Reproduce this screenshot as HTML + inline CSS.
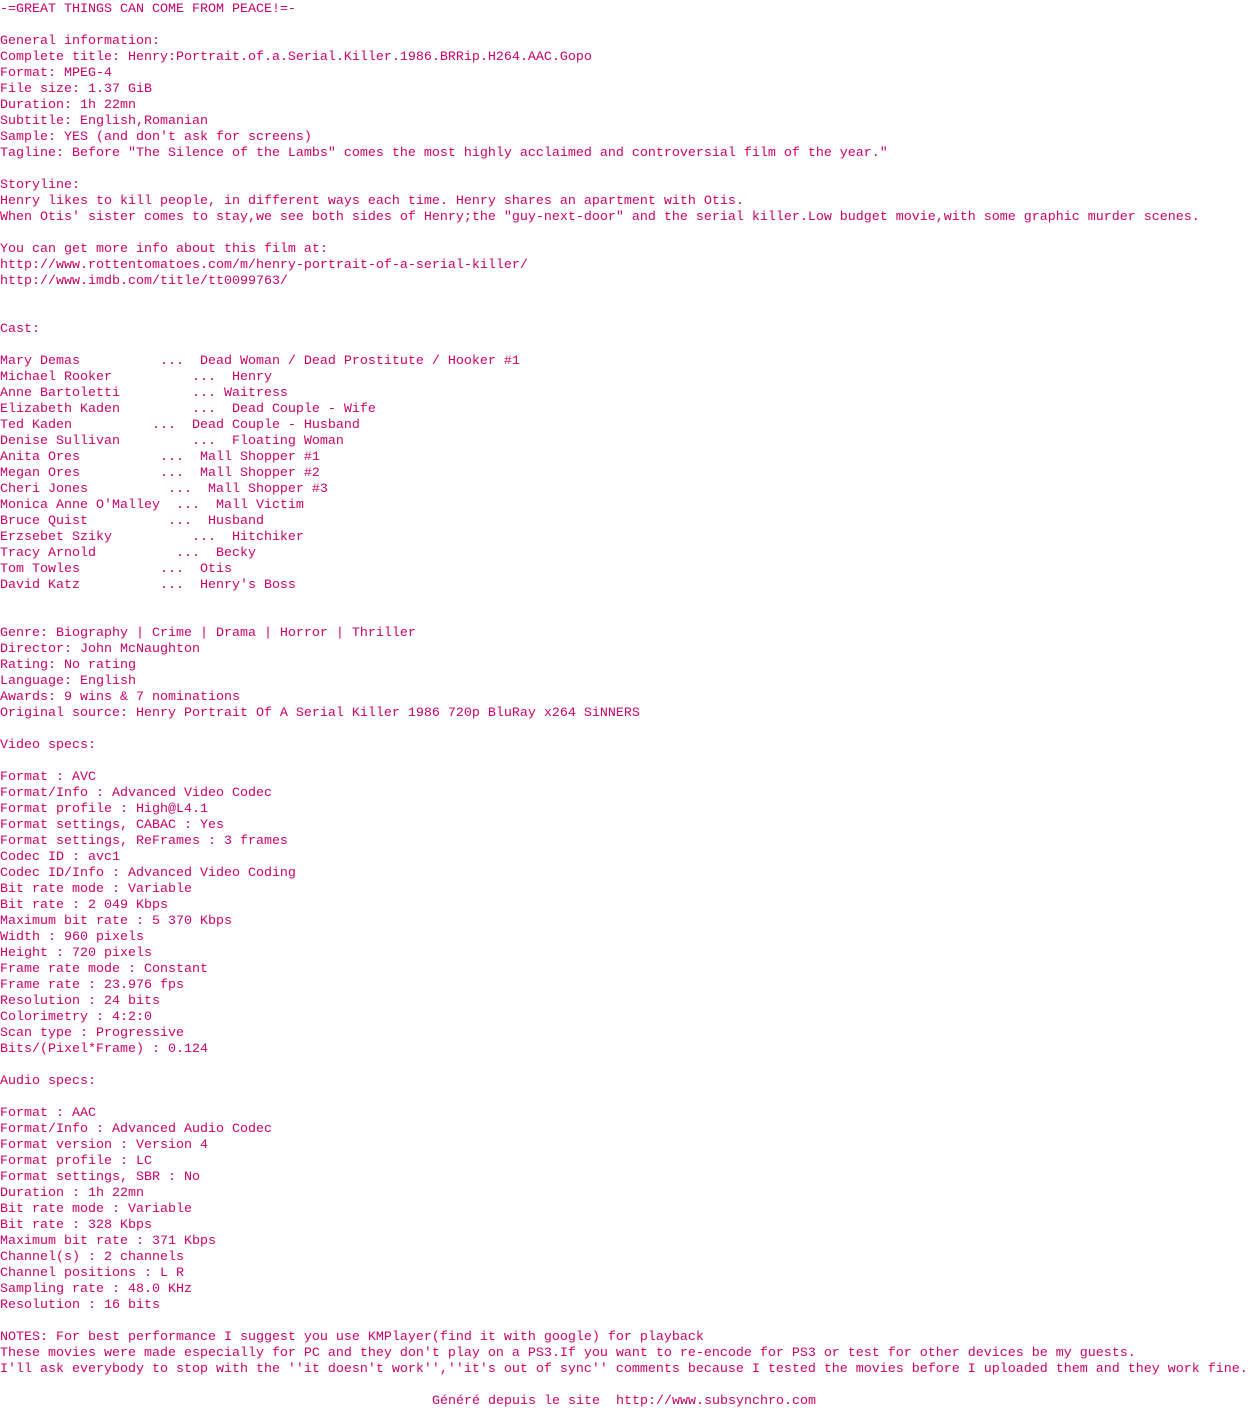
<!DOCTYPE html>
<html><head><meta charset="utf-8"><style>
html,body{margin:0;padding:0;background:#fff;width:1248px;height:1408px;overflow:hidden}
pre{margin:0;padding-top:2px;font-family:"Liberation Mono",monospace;font-size:13.33px;line-height:16px;color:#cc0066;white-space:pre}
.f{position:absolute;top:1394px;left:0;width:1248px;text-align:center;font-family:"Liberation Mono",monospace;font-size:13.33px;line-height:16px;color:#cc0066;white-space:pre}
</style></head><body><pre>-=GREAT THINGS CAN COME FROM PEACE!=-

General information:
Complete title: Henry:Portrait.of.a.Serial.Killer.1986.BRRip.H264.AAC.Gopo
Format: MPEG-4
File size: 1.37 GiB
Duration: 1h 22mn
Subtitle: English,Romanian
Sample: YES (and don't ask for screens)
Tagline: Before "The Silence of the Lambs" comes the most highly acclaimed and controversial film of the year."

Storyline:
Henry likes to kill people, in different ways each time. Henry shares an apartment with Otis.
When Otis' sister comes to stay,we see both sides of Henry;the "guy-next-door" and the serial killer.Low budget movie,with some graphic murder scenes.

You can get more info about this film at:
http://www.rottentomatoes.com/m/henry-portrait-of-a-serial-killer/
http://www.imdb.com/title/tt0099763/


Cast:

Mary Demas          ...  Dead Woman / Dead Prostitute / Hooker #1
Michael Rooker          ...  Henry
Anne Bartoletti         ... Waitress
Elizabeth Kaden         ...  Dead Couple - Wife
Ted Kaden          ...  Dead Couple - Husband
Denise Sullivan         ...  Floating Woman
Anita Ores          ...  Mall Shopper #1
Megan Ores          ...  Mall Shopper #2
Cheri Jones          ...  Mall Shopper #3
Monica Anne O'Malley  ...  Mall Victim
Bruce Quist          ...  Husband
Erzsebet Sziky          ...  Hitchiker
Tracy Arnold          ...  Becky
Tom Towles          ...  Otis
David Katz          ...  Henry's Boss


Genre: Biography | Crime | Drama | Horror | Thriller
Director: John McNaughton
Rating: No rating
Language: English
Awards: 9 wins &amp; 7 nominations
Original source: Henry Portrait Of A Serial Killer 1986 720p BluRay x264 SiNNERS

Video specs:

Format : AVC
Format/Info : Advanced Video Codec
Format profile : High@L4.1
Format settings, CABAC : Yes
Format settings, ReFrames : 3 frames
Codec ID : avc1
Codec ID/Info : Advanced Video Coding
Bit rate mode : Variable
Bit rate : 2 049 Kbps
Maximum bit rate : 5 370 Kbps
Width : 960 pixels
Height : 720 pixels
Frame rate mode : Constant
Frame rate : 23.976 fps
Resolution : 24 bits
Colorimetry : 4:2:0
Scan type : Progressive
Bits/(Pixel*Frame) : 0.124

Audio specs:

Format : AAC
Format/Info : Advanced Audio Codec
Format version : Version 4
Format profile : LC
Format settings, SBR : No
Duration : 1h 22mn
Bit rate mode : Variable
Bit rate : 328 Kbps
Maximum bit rate : 371 Kbps
Channel(s) : 2 channels
Channel positions : L R
Sampling rate : 48.0 KHz
Resolution : 16 bits

NOTES: For best performance I suggest you use KMPlayer(find it with google) for playback
These movies were made especially for PC and they don't play on a PS3.If you want to re-encode for PS3 or test for other devices be my guests.
I'll ask everybody to stop with the ''it doesn't work'',''it's out of sync'' comments because I tested the movies before I uploaded them and they work fine.</pre>
<div class="f">Généré depuis le site  http://www.subsynchro.com</div>
</body></html>
